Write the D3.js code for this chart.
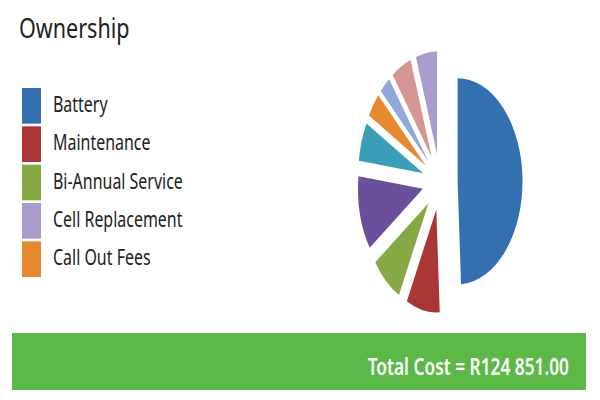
<!DOCTYPE html>
<html>
<head>
<meta charset="utf-8">
<script src="https://cdn.jsdelivr.net/npm/d3@7"></script>
<style>
  body { margin: 0; background: #fff; }
  text { font-family: "Noto Sans", "Open Sans", sans-serif; }
</style>
</head>
<body>
<svg width="600" height="400"></svg>
<script>
// slices in drawing order (clockwise from 12 o'clock)
var categories = ["Battery", "Maintenance", "Bi-Annual Service", "Insurance", "Installation",
                  "Call Out Fees", "Transport", "Monitoring", "Cell Replacement"];
var costs = [61385, 10404, 9711, 14566, 7630, 4855, 3468, 6243, 6589];
var colours = ["#3470b0", "#ab3636", "#86a845", "#6c4f9b", "#3a9fb6",
               "#e6892f", "#8fa9d9", "#d49694", "#a99bca"];
// legend only has room for these
var legendItems = ["Battery", "Maintenance", "Bi-Annual Service", "Cell Replacement", "Call Out Fees"];
var title = "Ownership";

var svg = d3.select("svg");

var colour = d3.scaleOrdinal().domain(categories).range(colours);

var rand = d3.formatLocale({decimal: ".", thousands: " ", grouping: [3], currency: ["R", ""]});
var total = d3.sum(costs);

// title
svg.append("text")
    .attr("transform", "translate(19,38) scale(0.77,1)")
    .attr("font-size", 28)
    .attr("fill", "#222")
    .text(title);

// legend
var yLegend = d3.scaleBand().domain(legendItems).range([88, 277]).paddingInner(0.07);

var legend = svg.append("g").selectAll("g")
    .data(legendItems)
    .enter().append("g")
    .attr("transform", function(d) { return "translate(22," + yLegend(d) + ")"; });

legend.append("rect")
    .attr("width", 19)
    .attr("height", yLegend.bandwidth())
    .attr("fill", function(d) { return colour(d); });

legend.append("text")
    .attr("transform", "translate(31," + (yLegend.bandwidth() / 2 + 6) + ") scale(0.76,1)")
    .attr("font-size", 21)
    .attr("fill", "#222")
    .text(function(d) { return d; });

// exploded pie, squashed sideways like the original
var radius = 103,
    explode = 28;

var pie = d3.pie().sort(null).value(function(d) { return d.cost; });
var arc = d3.arc().innerRadius(0).outerRadius(radius);

var slices = categories.map(function(c, i) { return {name: c, cost: costs[i]}; });

var pieG = svg.append("g")
    .attr("transform", "translate(440,182) scale(0.63,1)");

pieG.selectAll("path")
    .data(pie(slices))
    .enter().append("path")
    .attr("d", arc)
    .attr("fill", function(d) { return colour(d.data.name); })
    .attr("transform", function(d) {
        var a = (d.startAngle + d.endAngle) / 2;
        return "translate(" + (Math.sin(a) * explode) + "," + (-Math.cos(a) * explode) + ")";
    });

// total bar
svg.append("rect")
    .attr("x", 12)
    .attr("y", 333)
    .attr("width", 574)
    .attr("height", 57)
    .attr("fill", "#5db947");

svg.append("text")
    .attr("transform", "translate(569,375) scale(0.72,1)")
    .attr("text-anchor", "end")
    .attr("font-size", 24)
    .attr("font-weight", 600)
    .attr("fill", "#fff")
    .text("Total Cost = " + rand.format("$,.2f")(total));
</script>
</body>
</html>
